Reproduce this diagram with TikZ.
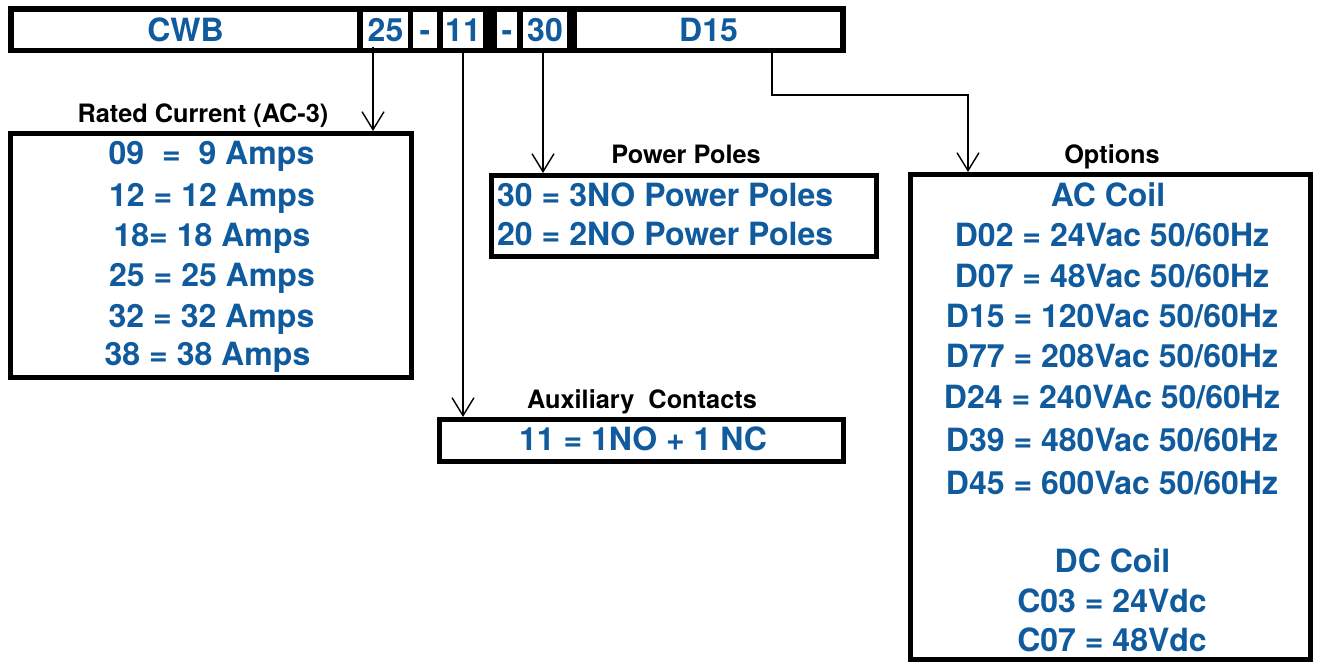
\documentclass[tikz,border=0pt]{standalone}
\usepackage{fontspec}
\setmainfont{TeX Gyre Heros}
\usetikzlibrary{arrows.meta}
\definecolor{codeblue}{RGB}{16,90,158}
\tikzset{
  cell/.style={fill=white, inner sep=0pt, minimum height=36pt, text height=23pt, text depth=0pt, text=codeblue, font=\bfseries\fontsize{32}{38}\selectfont},
  box/.style={draw=black, line width=5pt, fill=white, inner sep=0pt},
  val/.style={anchor=base, inner sep=0pt, text=codeblue, font=\bfseries\fontsize{32}{38}\selectfont},
  lbl/.style={anchor=base, inner sep=0pt, text=black, font=\bfseries\fontsize{25.3}{30}\selectfont},
  arr/.style={-{Straight Barb[length=18pt,width=22pt]}, line width=1.4pt}
}
\begin{document}
\begin{tikzpicture}[x=1pt,y=-1pt]
\useasboundingbox (0,0) rectangle (1317,662);
% code bar
\node[fill=black, inner sep=0pt, minimum width=838pt, minimum height=47pt] (bar) at (427,29.5) {};
\node[cell, minimum width=343pt] (cCWB) at (185.5,30) {CWB};
\node[cell, minimum width=45pt] (c25) at (385.5,30) {25};
\node[cell, minimum width=24pt] (cd1) at (425,30) {-};
\node[cell, minimum width=40pt] (c11) at (463,30) {11};
\node[cell, minimum width=20pt] (cd2) at (507,30) {-};
\node[cell, minimum width=44pt] (c30) at (545,30) {30};
\node[cell, minimum width=263pt] (cD15) at (708.5,30) {D15};

% boxes
\node[box, minimum width=401pt, minimum height=244pt] (rated) at (211,255.5) {};
\node[box, minimum width=385pt, minimum height=81pt] (poles) at (684,216) {};
\node[box, minimum width=404pt, minimum height=42pt] (aux) at (641.5,440.5) {};
\node[box, minimum width=400pt, minimum height=485pt] (opt) at (1110.5,417) {};

% labels
\node[lbl] (lrated) at (203,122) {Rated Current (AC-3)};
\node[lbl] (lpoles) at (686,163) {Power Poles};
\node[lbl] (laux) at (642,408) {Auxiliary\ \ Contacts};
\node[lbl] (lopt) at (1112,163) {Options};

% rated current values
\node[val] (r1) at (211.5,164) {09\ \ =\ \ 9 Amps};
\node[val] (r2) at (212,206.7) {12 = 12 Amps};
\node[val] (r3) at (212,246.7) {18= 18 Amps};
\node[val] (r4) at (212,286.7) {25 = 25 Amps};
\node[val] (r5) at (211.5,327) {32 = 32 Amps};
\node[val] (r6) at (207.5,365.7) {38 = 38 Amps};

% power poles values
\node[val, anchor=base west] (p1) at (497,206.7) {30 = 3NO Power Poles};
\node[val, anchor=base west] (p2) at (497,245.7) {20 = 2NO Power Poles};

% auxiliary
\node[val] (a1) at (643,450.7) {11 = 1NO + 1 NC};

% options
\node[val] (o1) at (1108,206.7) {AC Coil};
\node[val] (o2) at (1112,246) {D02 = 24Vac 50/60Hz};
\node[val] (o3) at (1112,287.7) {D07 = 48Vac 50/60Hz};
\node[val] (o4) at (1112,327.7) {D15 = 120Vac 50/60Hz};
\node[val] (o5) at (1112,367.7) {D77 = 208Vac 50/60Hz};
\node[val] (o6) at (1112,408.3) {D24 = 240VAc 50/60Hz};
\node[val] (o7) at (1112,451) {D39 = 480Vac 50/60Hz};
\node[val] (o8) at (1112,494) {D45 = 600Vac 50/60Hz};
\node[val] (o9) at (1112.5,572.7) {DC Coil};
\node[val] (o10) at (1112,612.7) {C03 = 24Vdc};
\node[val] (o11) at (1112,651.7) {C07 = 48Vdc};

% connector end points
\coordinate (s25) at (373,47);
\coordinate (e25) at (373,131);
\coordinate (s11) at (463,48);
\coordinate (e11) at (463,417);
\coordinate (s30) at (543,48);
\coordinate (e30) at (543,173);
\coordinate (sD15) at (772,48);
\coordinate (kD15) at (772,95);
\coordinate (eD15) at (968,172);

\draw[arr] (s25) -- (e25);
\draw[arr] (s11) -- (e11);
\draw[arr] (s30) -- (e30);
\draw[arr] (sD15) -- (kD15) -| (eD15);
\end{tikzpicture}
\end{document}
